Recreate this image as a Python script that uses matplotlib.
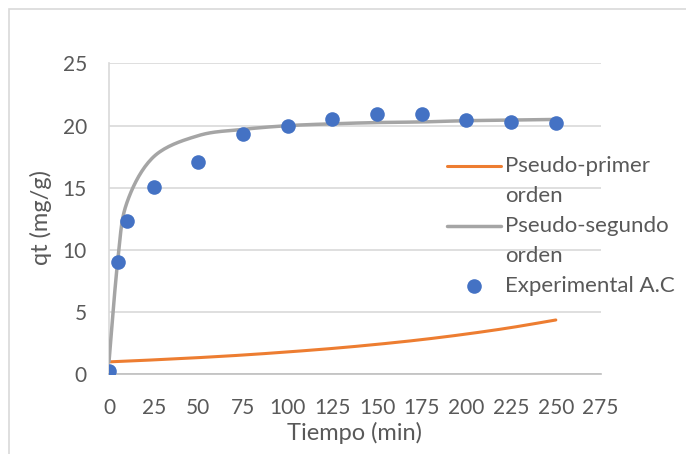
import numpy as np
import matplotlib.pyplot as plt
from matplotlib.lines import Line2D
from matplotlib.patches import Rectangle

plt.rcParams["font.family"] = ["Lato", "DejaVu Sans"]

# data
tiempo = [0, 5, 10, 25, 50, 75, 100, 125, 150, 175, 200, 225, 250]
qt_exp = [0.3, 9.0, 12.35, 15.05, 17.05, 19.35, 19.95, 20.55, 20.95, 20.9, 20.45, 20.3, 20.25]
qt_primer = [1.0, 1.03, 1.06, 1.16, 1.34, 1.55, 1.8, 2.08, 2.41, 2.79, 3.24, 3.76, 4.37]
qt_segundo = [1.0, 9.3, 13.8, 17.5, 19.2, 19.7, 20.0, 20.15, 20.25, 20.3, 20.4, 20.45, 20.5]
x_ticks = np.arange(0, 276, 25)
y_ticks = np.arange(0, 26, 5)

TXT = "#595959"
C_PRIMER = "#ED7D31"
C_SEGUNDO = "#A5A5A5"
C_EXP = "#4472C4"


def smooth(x, y, n=20):
    # Excel-like smoothed line (Catmull-Rom through the given points)
    x = np.asarray(x, float)
    y = np.asarray(y, float)
    px = np.concatenate([[x[0]], x, [x[-1]]])
    py = np.concatenate([[y[0]], y, [y[-1]]])
    xs, ys = [], []
    for i in range(1, len(px) - 2):
        p0, p1, p2, p3 = (np.array([px[j], py[j]]) for j in (i - 1, i, i + 1, i + 2))
        c1 = p1 + (p2 - p0) / 6
        c2 = p2 - (p3 - p1) / 6
        s = np.linspace(0, 1, n)[:, None]
        b = (1 - s) ** 3 * p1 + 3 * (1 - s) ** 2 * s * c1 + 3 * (1 - s) * s ** 2 * c2 + s ** 3 * p2
        xs.extend(b[:, 0])
        ys.extend(b[:, 1])
    return np.array(xs), np.array(ys)


fig = plt.figure(figsize=(6.86, 4.54), dpi=100)
ax = fig.add_axes([109 / 686, 1 - 374.3 / 454, 491.5 / 686, 310.8 / 454])

# chart area border
fig.add_artist(Rectangle((9 / 686, -0.1), 1.2, 1 - 9 / 454 + 0.1, transform=fig.transFigure,
                         fill=False, edgecolor="#d9d9d9", linewidth=1.2))

sx, sy = smooth(tiempo, qt_primer)
ax.plot(sx, sy, color=C_PRIMER, linewidth=2.2, solid_capstyle="round", zorder=3)
sx, sy = smooth(tiempo, qt_segundo)
ax.plot(sx, sy, color=C_SEGUNDO, linewidth=2.5, solid_capstyle="round", zorder=3)
ax.plot(tiempo, qt_exp, "o", color=C_EXP, markersize=10.5, markeredgewidth=0, zorder=4)

ax.set_xlim(0, 275)
ax.set_ylim(0, 25)
ax.set_xticks(x_ticks)
ax.set_yticks(y_ticks)
ax.grid(axis="y", color="#d9d9d9", linewidth=1.2)
ax.set_axisbelow(True)
for side in ["top", "right"]:
    ax.spines[side].set_visible(False)
ax.spines["left"].set_color("#d9d9d9")
ax.spines["left"].set_linewidth(1.2)
ax.spines["bottom"].set_color("#bfbfbf")
ax.spines["bottom"].set_linewidth(1.2)
ax.tick_params(length=0, labelsize=15, labelcolor=TXT)
ax.tick_params(axis="y", pad=16)
ax.tick_params(axis="x", pad=17)

ax.set_xlabel("Tiempo (min)", fontsize=17, color=TXT)
ax.xaxis.set_label_coords(0.5, (374.3 - 433) / 310.8)
ax.xaxis.label.set_va("center")
ax.set_ylabel("qt (mg/g)", fontsize=17, color=TXT)
ax.yaxis.set_label_coords((41 - 109) / 491.5, (374.3 - 218) / 310.8)
ax.yaxis.label.set_va("center")


# legend
def fx(p):
    return p / 686


def fy(p):
    return 1 - p / 454


fig.add_artist(Line2D([fx(447), fx(501)], [fy(166), fy(166)], color=C_PRIMER,
                      linewidth=2.2, solid_capstyle="round", transform=fig.transFigure))
fig.add_artist(Line2D([fx(447), fx(501)], [fy(226), fy(226)], color=C_SEGUNDO,
                      linewidth=2.5, solid_capstyle="round", transform=fig.transFigure))
fig.add_artist(Line2D([fx(474)], [fy(286)], marker="o", color=C_EXP, markersize=10.5,
                      markeredgewidth=0, transform=fig.transFigure))
for label, ypix in [("Pseudo-primer", 166), ("orden", 196), ("Pseudo-segundo", 226),
                    ("orden", 256), ("Experimental A.C", 286)]:
    fig.text(fx(505), fy(ypix), label, fontsize=16, color=TXT, va="center", ha="left")

fig.savefig("out.png", dpi=100)
